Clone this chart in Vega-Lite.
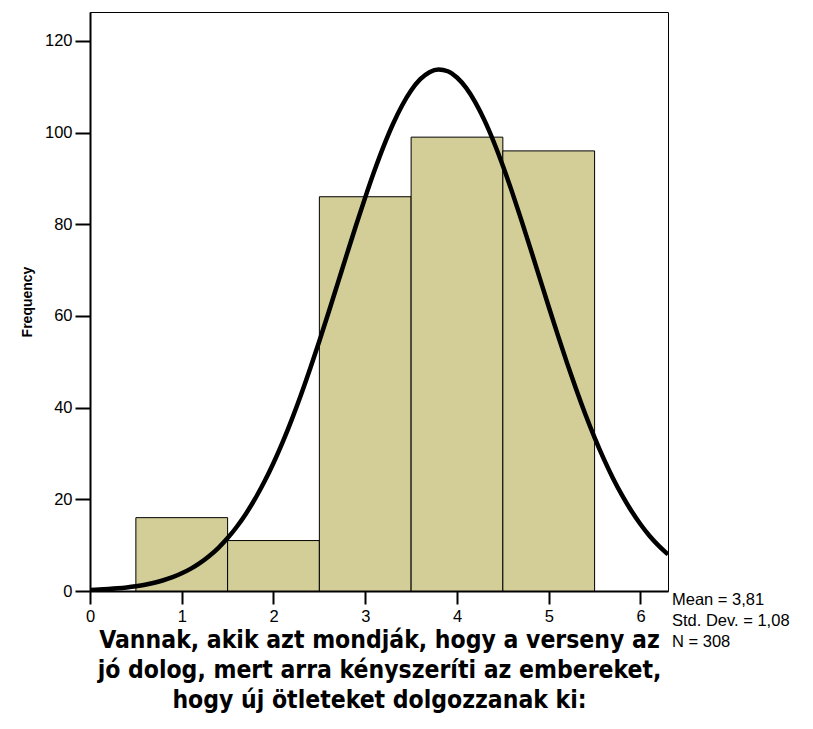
{
  "$schema": "https://vega.github.io/schema/vega-lite/v6.json",
  "width": 578,
  "height": 579,
  "autosize": {"type": "none"},
  "padding": {"left": 90, "top": 12, "right": 145, "bottom": 138},
  "background": "white",
  "config": {
    "view": {"stroke": "black", "strokeWidth": 1},
    "font": "Liberation Sans"
  },
  "datasets": {
    "bins": [
      {"x0": 0.5, "x1": 1.5, "count": 16},
      {"x0": 1.5, "x1": 2.5, "count": 11},
      {"x0": 2.5, "x1": 3.5, "count": 86},
      {"x0": 3.5, "x1": 4.5, "count": 99},
      {"x0": 4.5, "x1": 5.5, "count": 96}
    ],
    "curve": [
      {"x": 0.0, "y": 0.23}, {"x": 0.1, "y": 0.31}, {"x": 0.2, "y": 0.43}, {"x": 0.3, "y": 0.58},
      {"x": 0.4, "y": 0.78}, {"x": 0.5, "y": 1.04}, {"x": 0.6, "y": 1.37}, {"x": 0.7, "y": 1.80},
      {"x": 0.8, "y": 2.34}, {"x": 0.9, "y": 3.02}, {"x": 1.0, "y": 3.86}, {"x": 1.1, "y": 4.88},
      {"x": 1.2, "y": 6.14}, {"x": 1.3, "y": 7.64}, {"x": 1.4, "y": 9.43}, {"x": 1.5, "y": 11.55},
      {"x": 1.6, "y": 14.02}, {"x": 1.7, "y": 16.87}, {"x": 1.8, "y": 20.13}, {"x": 1.9, "y": 23.81},
      {"x": 2.0, "y": 27.93}, {"x": 2.1, "y": 32.48}, {"x": 2.2, "y": 37.45}, {"x": 2.3, "y": 42.81},
      {"x": 2.4, "y": 48.52}, {"x": 2.5, "y": 54.52}, {"x": 2.6, "y": 60.74}, {"x": 2.7, "y": 67.09},
      {"x": 2.8, "y": 73.47}, {"x": 2.9, "y": 79.78}, {"x": 3.0, "y": 85.87}, {"x": 3.1, "y": 91.66},
      {"x": 3.2, "y": 97.00}, {"x": 3.3, "y": 101.77}, {"x": 3.4, "y": 105.86}, {"x": 3.5, "y": 109.18},
      {"x": 3.6, "y": 111.64}, {"x": 3.7, "y": 113.18}, {"x": 3.8, "y": 113.76}, {"x": 3.9, "y": 113.38},
      {"x": 4.0, "y": 112.02}, {"x": 4.1, "y": 109.74}, {"x": 4.2, "y": 106.59}, {"x": 4.3, "y": 102.65},
      {"x": 4.4, "y": 98.00}, {"x": 4.5, "y": 92.76}, {"x": 4.6, "y": 87.06}, {"x": 4.7, "y": 81.01},
      {"x": 4.8, "y": 74.75}, {"x": 4.9, "y": 68.37}, {"x": 5.0, "y": 62.00}, {"x": 5.1, "y": 55.75},
      {"x": 5.2, "y": 49.70}, {"x": 5.3, "y": 43.93}, {"x": 5.4, "y": 38.49}, {"x": 5.5, "y": 33.45},
      {"x": 5.6, "y": 28.81}, {"x": 5.7, "y": 24.60}, {"x": 5.8, "y": 20.84}, {"x": 5.9, "y": 17.49},
      {"x": 6.0, "y": 14.56}, {"x": 6.1, "y": 12.01}, {"x": 6.2, "y": 9.83}, {"x": 6.3, "y": 7.98}
    ],
    "stats": [
      {"label": "Mean = 3,81\nStd. Dev. = 1,08\nN = 308", "xpos": 6.3, "ypos": 0}
    ]
  },
  "layer": [
    {
      "data": {"name": "bins"},
      "mark": {"type": "rect", "fill": "#d3ce97", "stroke": "#000000", "strokeWidth": 1},
      "encoding": {
        "x": {
          "field": "x0", "type": "quantitative",
          "scale": {"domain": [0, 6.3], "nice": false, "zero": false},
          "axis": {
            "values": [0, 1, 2, 3, 4, 5, 6],
            "format": "d",
            "grid": false,
            "domainColor": "black", "domainWidth": 2,
            "tickColor": "black", "tickWidth": 2, "tickSize": 13,
            "labelFont": "Liberation Sans", "labelFontSize": 16.5, "labelColor": "black",
            "labelPadding": 4, "labelFlush": false,
            "title": ["Vannak, akik azt mondják, hogy a verseny az", "jó dolog, mert arra kényszeríti az embereket,", "hogy új ötleteket dolgozzanak ki:"],
            "titleFont": "DejaVu Sans Condensed, Liberation Sans", "titleFontWeight": "bold", "titleFontSize": 24.5,
            "titleColor": "black", "titlePadding": 4, "titleLineHeight": 30
          }
        },
        "x2": {"field": "x1"},
        "y": {
          "field": "count", "type": "quantitative",
          "scale": {"domain": [0, 126.3], "nice": false},
          "axis": {
            "values": [0, 20, 40, 60, 80, 100, 120],
            "grid": false,
            "domainColor": "black", "domainWidth": 2,
            "tickColor": "black", "tickWidth": 2, "tickSize": 15,
            "labelFont": "Liberation Sans", "labelFontSize": 16.5, "labelColor": "black",
            "labelPadding": 3, "labelFlush": false,
            "title": "Frequency",
            "titleFont": "Liberation Sans", "titleFontWeight": "bold", "titleFontSize": 14,
            "titleColor": "black", "titlePadding": 10
          }
        },
        "y2": {"datum": 0}
      }
    },
    {
      "data": {"name": "curve"},
      "mark": {"type": "line", "color": "black", "strokeWidth": 4.5, "interpolate": "monotone", "clip": true},
      "encoding": {
        "x": {"field": "x", "type": "quantitative"},
        "y": {"field": "y", "type": "quantitative"}
      }
    },
    {
      "data": {"name": "stats"},
      "mark": {"type": "text", "align": "left", "baseline": "top", "dx": 4, "dy": 1, "fontSize": 16.5, "font": "Liberation Sans", "color": "black", "lineBreak": "\n", "lineHeight": 21},
      "encoding": {
        "x": {"field": "xpos", "type": "quantitative"},
        "y": {"field": "ypos", "type": "quantitative"},
        "text": {"field": "label"}
      }
    }
  ]
}
